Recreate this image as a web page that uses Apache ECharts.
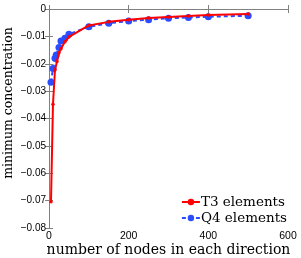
<!DOCTYPE html>
<html><head><meta charset="utf-8">
<script src="https://cdn.jsdelivr.net/npm/echarts@6/dist/echarts.min.js"></script>
<style>html,body{margin:0;padding:0;background:#fff}#c{width:301px;height:258px}</style>
</head><body><div id="c"></div>
<script>
var t3X = [5,10,15,20,25,30,40,50,100,150,200,250,300,350,400,500];
var t3Y = [-0.0704,-0.0348,-0.0223,-0.0192,-0.016,-0.0145,-0.012,-0.0102,-0.006,-0.0047,-0.0039,-0.0033,-0.0029,-0.0026,-0.0022,-0.0018];
var q4X = [5,10,15,18,25,30,40,50,100,150,200,250,300,350,400,500];
var q4Y = [-0.0268,-0.0217,-0.018,-0.0168,-0.0141,-0.0117,-0.0107,-0.0092,-0.0065,-0.0052,-0.0044,-0.0039,-0.0034,-0.0031,-0.0028,-0.0025];
var xTicks = [0,200,400,600];
var yTicks = [0,-0.01,-0.02,-0.03,-0.04,-0.05,-0.06,-0.07,-0.08];

function pairs(xs, ys){ return xs.map(function(x,i){return [x, ys[i]];}); }
var chart = echarts.init(document.getElementById('c'));
var axisColor = '#808080';
var serif = 'DejaVu Serif';
var sans = 'Liberation Sans';
chart.setOption({
  animation: false,
  grid: {left: 49, right: 13, top: 9, bottom: 30, containLabel: false, outerBoundsMode: 'none'},
  legend: {
    orient: 'vertical', right: 14, bottom: 33, padding: 0, itemWidth: 18, itemHeight: 8, itemGap: 2,
    textStyle: {fontFamily: serif, fontSize: 13.5, color: '#000', padding: [0,0,0,-4]},
    data: ['T3 elements', 'Q4 elements']
  },
  xAxis: [{
    type: 'value', min: 0, max: 600, interval: 200,
    name: 'number of nodes in each direction', nameLocation: 'middle', nameGap: 15, nameMoveOverlap: false,
    nameTextStyle: {fontFamily: serif, fontSize: 14, color: '#000'},
    axisLine: {lineStyle: {color: axisColor}},
    axisTick: {inside: true, length: 4, lineStyle: {color: axisColor}},
    axisLabel: {fontFamily: sans, fontSize: 10.5, color: '#000', margin: 3},
    splitLine: {show: false}
  },{
    type: 'value', min: 0, max: 600, interval: 200, position: 'top',
    axisLine: {lineStyle: {color: axisColor}},
    axisTick: {inside: true, length: 4, lineStyle: {color: axisColor}},
    axisLabel: {show: false}, splitLine: {show: false}
  }],
  yAxis: [{
    type: 'value', min: -0.08, max: 0, interval: 0.01,
    name: 'minimum concentration', nameLocation: 'middle', nameGap: 34, nameMoveOverlap: false,
    nameTextStyle: {fontFamily: serif, fontSize: 12.5, color: '#000', padding: [0,0,0,31]},
    axisLine: {lineStyle: {color: axisColor}},
    axisTick: {inside: true, length: 4, lineStyle: {color: axisColor}},
    axisLabel: {fontFamily: sans, fontSize: 10, color: '#000', margin: 3,
      formatter: function(v){ var s = (Math.round(v*100)/100).toString(); return s.replace('-', '\u2212'); }},
    splitLine: {show: false}
  },{
    type: 'value', min: -0.08, max: 0, interval: 0.01, position: 'right',
    axisLine: {lineStyle: {color: axisColor}},
    axisTick: {inside: true, length: 4, lineStyle: {color: axisColor}},
    axisLabel: {show: false}, splitLine: {show: false}
  }],
  series: [{
    name: 'T3 elements', type: 'line', data: pairs(t3X, t3Y),
    lineStyle: {color: '#ff0000', width: 2},
    itemStyle: {color: '#ff0000'},
    symbol: 'circle', symbolSize: 3.5, z: 3
  },{
    name: 'Q4 elements', type: 'line', data: pairs(q4X, q4Y),
    lineStyle: {color: '#2a4dff', width: 2, type: [4,3]},
    itemStyle: {color: '#2a4dff'},
    symbol: 'circle', symbolSize: 7, z: 2
  }]
});
</script></body></html>
